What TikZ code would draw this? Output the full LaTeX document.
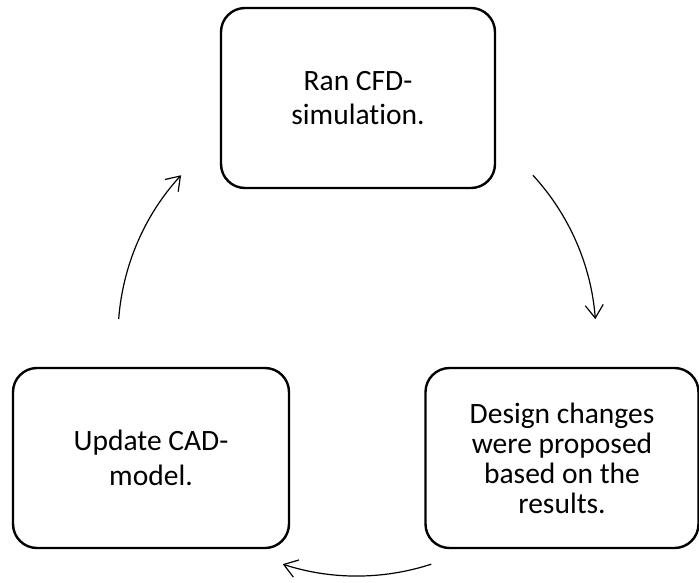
\documentclass[tikz,border=0pt]{standalone}
\usepackage{fontspec}
\setmainfont{Carlito}[Ligatures={NoCommon}]
\usetikzlibrary{arrows.meta}
\begin{document}
\begin{tikzpicture}[x=1pt,y=1pt,
  box/.style={draw=black, line width=2.4pt, rounded corners=24pt, align=center,
    font=\fontsize{29.5}{34}\selectfont, inner sep=0pt, minimum height=180pt},
  cyc/.style={draw=black, line width=1.2pt, -{Straight Barb[length=13pt,width=18pt,line width=1.2pt]}}]
\useasboundingbox (0,0) rectangle (699,-582);
\node[box, minimum width=274pt] (top) at (358,-98) {Ran CFD-\\simulation.};
\node[box, minimum width=273pt, font=\fontsize{29.5}{30}\selectfont] (right) at (562,-458) {Design changes\\were proposed\\based on the\\results.};
\node[box, minimum width=276pt, font=\fontsize{29.5}{35}\selectfont] (left) at (151,-458) {Update CAD-\\model.};
\coordinate (C) at (357,-337);
\coordinate (a1s) at ([shift={(42.6:239)}]C);
\coordinate (a2s) at ([shift={(-71.9:239)}]C);
\coordinate (a3s) at ([shift={(175.7:239)}]C);
\draw[cyc] (a1s) arc[start angle=42.6, end angle=4.3, radius=239];
\draw[cyc] (a2s) arc[start angle=-71.9, end angle=-108.1, radius=239];
\draw[cyc] (a3s) arc[start angle=175.7, end angle=137.4, radius=239];
\end{tikzpicture}
\end{document}
